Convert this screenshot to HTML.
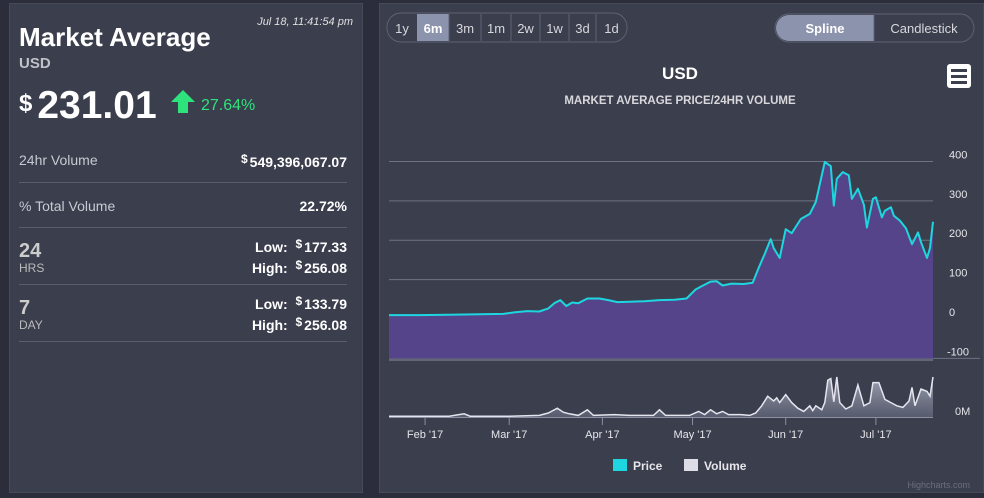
<!DOCTYPE html>
<html><head><meta charset="utf-8">
<style>
body{margin:0;width:984px;height:498px;background:#2b2e3a;font-family:"Liberation Sans",sans-serif;overflow:hidden;position:relative;color:#fff}
.panel{position:absolute;background:#3a3e4d;border:1px solid #454a5a}
#left{left:9px;top:3px;width:352px;height:488px}
#right{left:379px;top:3px;width:603px;height:488px}
.abs{position:absolute}
.row{position:absolute;left:9px;width:328px;border-bottom:1px solid #5a5f70}
.lbl{color:#c8cad2;font-size:14px}
.val{position:absolute;right:0;font-weight:bold;font-size:14px}
.d{font-size:12px;vertical-align:4px;margin-right:2px}
</style></head><body>
<div id="left" class="panel">
  <div class="abs" style="right:9px;top:12px;font-size:11px;font-style:italic;color:#e0e0e0">Jul 18, 11:41:54 pm</div>
  <div class="abs" style="left:9px;top:18px;font-size:26px;font-weight:bold">Market Average</div>
  <div class="abs" style="left:9px;top:51px;font-size:15px;font-weight:bold;color:#c0c2c8">USD</div>
  <div class="abs" style="left:9px;top:80px;font-weight:bold"><span style="font-size:24px;vertical-align:7px;margin-right:5px">$</span><span style="font-size:39px">231.01</span></div>
  <div class="abs" style="left:161px;top:86px;width:0;height:0;border-left:12px solid transparent;border-right:12px solid transparent;border-bottom:12px solid #2ee37c"></div>
  <div class="abs" style="left:168px;top:97px;width:10px;height:12px;background:#2ee37c"></div>
  <div class="abs" style="left:191px;top:93px;font-size:16px;color:#2ee37c">27.64%</div>
  <div class="row" style="top:140px;height:38px"><span class="lbl" style="position:absolute;top:8px">24hr Volume</span><span class="val" style="top:8px"><span class="d">$</span>549,396,067.07</span></div>
  <div class="row" style="top:179px;height:44px"><span class="lbl" style="position:absolute;top:15px">% Total Volume</span><span class="val" style="top:15px">22.72%</span></div>
  <div class="row" style="top:224px;height:56px">
    <span style="position:absolute;top:12px;font-size:20px;font-weight:bold;color:#ccc">24</span><span style="position:absolute;top:33px;font-size:12px;color:#bbb">HRS</span>
    <span class="val" style="top:9px">Low:&nbsp; <span class="d">$</span>177.33</span><span class="val" style="top:30px">High:&nbsp; <span class="d">$</span>256.08</span></div>
  <div class="row" style="top:281px;height:56px">
    <span style="position:absolute;top:12px;font-size:20px;font-weight:bold;color:#ccc">7</span><span style="position:absolute;top:33px;font-size:12px;color:#bbb">DAY</span>
    <span class="val" style="top:9px">Low:&nbsp; <span class="d">$</span>133.79</span><span class="val" style="top:30px">High:&nbsp; <span class="d">$</span>256.08</span></div>
</div>
<div id="right" class="panel"></div>
<svg class="abs" style="left:0;top:0" width="984" height="498" id="chart">
  <g font-size="13" fill="#d8d8dc">
    <rect x="387" y="13" width="240" height="29" rx="14" fill="none" stroke="#5d6272"/>
    <rect x="417" y="14" width="32" height="27" fill="#8c93ac"/>
  </g>
  <g id="ranges"></g>
  <rect x="775" y="14" width="199" height="28" rx="14" fill="#3a3e4d" stroke="#5d6272"/>
  <path d="M789,15 H874 V41 H789 A13,13 0 0 1 789,15 Z" fill="#8c93ac"/>
  <text x="825" y="33" text-anchor="middle" font-size="13" font-weight="bold" fill="#fff">Spline</text>
  <line x1="874" y1="15" x2="874" y2="41" stroke="#5d6272"/>
  <text x="924" y="33" text-anchor="middle" font-size="13" fill="#d8d8dc">Candlestick</text>
  <text x="680" y="79" text-anchor="middle" font-size="17" font-weight="bold" fill="#fff">USD</text>
  <text x="680" y="104" text-anchor="middle" font-size="11.5" font-weight="bold" fill="#d8d8dc">MARKET AVERAGE PRICE/24HR VOLUME</text>
  <g><rect x="947" y="64" width="24" height="24" rx="3" fill="#fff"/><rect x="951" y="69" width="16" height="3" fill="#3a3e4d"/><rect x="951" y="75" width="16" height="3" fill="#3a3e4d"/><rect x="951" y="81" width="16" height="3" fill="#3a3e4d"/></g>
  <g id="grid"></g>
  <g id="series"></g>
  <g id="xaxis"></g>
  <g>
    <rect x="613" y="459" width="14" height="12" fill="#1ed6e0"/>
    <text x="633" y="470" font-size="12" font-weight="bold" fill="#e6e6ea">Price</text>
    <rect x="684" y="459" width="14" height="12" fill="#dcdde6"/>
    <text x="704" y="470" font-size="12" font-weight="bold" fill="#e6e6ea">Volume</text>
  </g>
  <text x="970" y="488" text-anchor="end" font-size="9" fill="#6a6f80">Highcharts.com</text>
</svg>
<script>
const rangeLabels=["1y","6m","3m","1m","2w","1w","3d","1d"];
const priceDays=[0,10,20,30,38,42,46,50,53,55,57,59,61,63,66,70,73,76,80,85,90,95,99,102,104,107,109,111,114,118,121,123,125,127,128,130,132,134,137,140,142,145,147,148,149,151,153,154,156,158,159,161,162,164,165,167,168,170,172,174,176,177,179,180,181];
const priceVals=[10,10,11,12,13,17,20,19,27,40,48,33,42,40,52,52,48,43,44,45,48,49,52,75,83,95,96,85,90,89,92,130,165,203,180,155,228,218,254,267,297,399,388,288,356,373,365,305,331,290,232,305,309,258,275,284,262,250,230,190,220,195,155,180,247];
const volDays=[0,20,25,27,40,50,53,56,58,60,63,66,68,75,80,88,90,92,100,103,105,107,109,111,113,117,120,122,124,126,128,129,130,132,134,136,138,140,141,142,144,145,146,147,148,149,150,152,154,156,158,160,161,163,165,167,169,171,173,174,175,177,179,180,181];
const volVals=[2,2,8,2,2,4,10,22,12,8,4,18,4,6,4,4,18,4,4,14,6,18,8,14,6,6,4,10,28,52,40,48,36,56,36,22,14,28,16,28,18,36,92,96,38,100,36,20,28,80,28,36,86,86,44,36,28,24,40,74,28,70,64,52,100];
const tickLabels=["Feb '17","Mar '17","Apr '17","May '17","Jun '17","Jul '17"];
const tickDays=[12,40,71,101,132,162];
const priceTicks=[400,300,200,100,0,-100];

const NS="http://www.w3.org/2000/svg";
function el(tag,attrs,parent,txt){const e=document.createElementNS(NS,tag);for(const k in attrs)e.setAttribute(k,attrs[k]);if(txt!==undefined)e.textContent=txt;parent.appendChild(e);return e;}
const X0=389,X1=933,DMAX=181;
const xs=d=>X0+(X1-X0)*d/DMAX;
const yp=v=>319-v*0.3938;
const yv=v=>417-v*0.4;

const rg=document.getElementById('ranges');
const bx=[387,417,449,481,511,540,569,596,627];
rangeLabels.forEach((l,i)=>{
  const t=el('text',{x:(bx[i]+bx[i+1])/2,y:33,'text-anchor':'middle','font-size':13,fill:i==1?'#fff':'#d8d8dc','font-weight':i==1?'bold':'normal'},rg,l);
  
  
  if(i>1){el('line',{x1:bx[i],y1:14,x2:bx[i],y2:41,stroke:'#5d6272'},rg);}
});

const grid=document.getElementById('grid');
priceTicks.forEach(v=>{
  const y=yp(v);
  const g=el('line',{x1:389,y1:y,x2:v==-100?980:933,y2:y,stroke:'#6e7384'},grid);
  
  
  const t=el('text',{x:v==-100?947:949,y:y-3,'font-size':11,fill:'#e6e6ea'},grid,String(v));
  
  
});
const zt=el('text',{x:955,y:415,'font-size':11,fill:'#e6e6ea'},grid,'0M');



const ser=document.getElementById('series');
let defs=el('defs',{},ser);
let lg=el('linearGradient',{id:'vg',x1:0,y1:0,x2:0,y2:1},defs);
el('stop',{offset:0,'stop-color':'#b8bccb','stop-opacity':0.8},lg);
el('stop',{offset:1,'stop-color':'#6a6f84','stop-opacity':0.6},lg);
let pts=priceDays.map((d,i)=>xs(d).toFixed(1)+','+yp(priceVals[i]).toFixed(1));
const area=el('path',{d:'M'+xs(0)+','+yp(-100)+' L'+pts.join(' L')+' L'+xs(DMAX)+','+yp(-100)+' Z',fill:'#554489'},ser);


const line=el('polyline',{points:pts.join(' '),fill:'none',stroke:'#1ed6e0','stroke-width':2,'stroke-linejoin':'round'},ser);


el('line',{x1:389,y1:360,x2:933,y2:360,stroke:'#8a8fa2'},ser);
let vpts=volDays.map((d,i)=>xs(d).toFixed(1)+','+yv(volVals[i]).toFixed(1));
const va=el('path',{d:'M'+xs(0)+',417 L'+vpts.join(' L')+' L'+xs(DMAX)+',417 Z',fill:'url(#vg)'},ser);


const vl=el('polyline',{points:vpts.join(' '),fill:'none',stroke:'#e4e5ee','stroke-width':1.5},ser);


el('line',{x1:389,y1:417.5,x2:933,y2:417.5,stroke:'#8a8fa2'},ser);

const xa=document.getElementById('xaxis');
tickLabels.forEach((l,i)=>{
  const x=xs(tickDays[i]);
  el('line',{x1:x,y1:418,x2:x,y2:425,stroke:'#8a8fa2'},xa);
  const t=el('text',{x:x,y:438,'text-anchor':'middle','font-size':11,fill:'#e6e6ea'},xa,l);
  
  
});
</script>
</body></html>
